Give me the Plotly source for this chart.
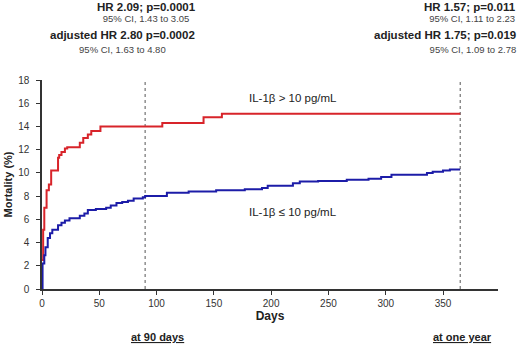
import plotly.graph_objects as go

# High IL-1beta group (> 10 pg/mL)
red_days = [0, 1, 2, 4, 6, 8, 14, 15, 17, 20, 22, 33, 36, 40, 43, 51, 105, 141, 157, 365]
red_vals = [2.5, 5.1, 7.0, 8.5, 9.0, 10.2, 11.3, 11.55, 11.8, 12.1, 12.2, 12.6, 13.0, 13.3, 13.6, 14.0, 14.3, 14.8, 15.1, 15.1]

# Low IL-1beta group (<= 10 pg/mL)
blue_days = [0, 0.5, 2, 3, 5, 7, 9, 14, 17, 20, 24, 33, 37, 40, 47, 56, 60, 65, 70, 75, 80, 88, 90,
             109, 128, 152, 177, 192, 197, 219, 225, 241, 266, 285, 296, 305, 336, 341, 350, 356, 365]
blue_vals = [0, 2.2, 2.9, 3.6, 4.4, 4.8, 5.1, 5.5, 5.7, 5.9, 6.1, 6.3, 6.5, 6.8, 6.9, 7.0, 7.2, 7.4, 7.5, 7.6, 7.8, 7.9, 8.0,
             8.3, 8.4, 8.5, 8.6, 8.7, 8.9, 9.1, 9.25, 9.3, 9.4, 9.5, 9.65, 9.85, 10.0, 10.1, 10.2, 10.3, 10.3]

x_ticks = [0, 50, 100, 150, 200, 250, 300, 350]
y_ticks = [0, 2, 4, 6, 8, 10, 12, 14, 16, 18]
marker_days = [90, 365]

FONT = "Liberation Sans, Arial, sans-serif"

fig = go.Figure()
fig.add_trace(go.Scatter(x=red_days, y=red_vals, mode="lines", line_shape="hv",
                         line=dict(color="#d8242a", width=2), showlegend=False))
fig.add_trace(go.Scatter(x=blue_days, y=blue_vals, mode="lines", line_shape="hv",
                         line=dict(color="#1c1ca8", width=2), showlegend=False))

for d in marker_days:
    fig.add_shape(type="line", x0=d, x1=d, y0=0, y1=18.2, xref="x", yref="y",
                  line=dict(color="#555", width=1, dash="dot"), layer="below")

fig.update_layout(
    width=520, height=344,
    margin=dict(l=42, r=22, t=80, b=55, autoexpand=False),
    paper_bgcolor="white", plot_bgcolor="white",
    font=dict(family=FONT, color="#333", size=10),
    xaxis=dict(range=[0, 398], tickvals=x_ticks, showgrid=False, zeroline=False,
               automargin=False,
               showline=True, linecolor="#333", linewidth=1.5, ticks="outside",
               ticklen=4, tickcolor="#333", tickfont=dict(size=10, color="#333"),
               title=dict(text="<b>Days</b>", font=dict(size=12, color="#222"), standoff=3)),
    yaxis=dict(range=[0, 18], tickvals=y_ticks, showgrid=False, zeroline=False,
               automargin=False,
               showline=True, linecolor="#333", linewidth=1.5, ticks="outside",
               ticklen=4, tickcolor="#333", tickfont=dict(size=10, color="#333"),
               ticklabelstandoff=5,
               title=dict(text="<b>Mortality (%)</b>", font=dict(size=11, color="#222"), standoff=3)),
)

W, H = 520, 344
def px(x): return (x - 42) / (W - 42 - 22)
def py(y): return (H - 55 - y) / (H - 80 - 55)

def ann(text, x, y, size, xanchor="center", color="#222", align="center"):
    fig.add_annotation(text=text, x=x, y=y, xref="paper", yref="paper", showarrow=False,
                       xanchor=xanchor, yanchor="middle", align=align,
                       font=dict(size=size, color=color, family=FONT))

def block(l1, l2, x, y, base, xanchor, align):
    txt = ("<span style='font-size:11.5px;color:#222'><b>%s</b></span><br>"
           "<span style='font-size:9.5px;color:#444'>%s</span>" % (l1, l2))
    ann(txt, x, y, base, xanchor=xanchor, align=align)

# Left header
block("HR 2.09; p=0.0001", "95% CI, 1.43 to 3.05", px(146), py(12), 8.8, "center", "center")
block("adjusted HR 2.80 p=0.0002", "95% CI, 1.63 to 4.80", px(122), py(42), 10.8, "center", "center")

# Right header
block("HR 1.57; p=0.011", "95% CI, 1.11 to 2.23", px(518), py(12), 8.8, "right", "right")
block("adjusted HR 1.75; p=0.019", "95% CI, 1.09 to 2.78", px(518), py(42), 10.8, "right", "right")

# Curve labels
ann("IL-1β > 10 pg/mL", px(247), py(98), 11.5, xanchor="left")
ann("IL-1β ≤ 10 pg/mL", px(247), py(212), 11.5, xanchor="left")

# Bottom labels
ann("<u><b>at 90 days</b></u>", px(157), py(337), 11)
ann("<u><b>at one year</b></u>", px(462), py(337), 11)

fig.write_html("out.html", config={"displayModeBar": False},
               post_script="document.body.style.margin='0';document.body.style.overflow='hidden';")
